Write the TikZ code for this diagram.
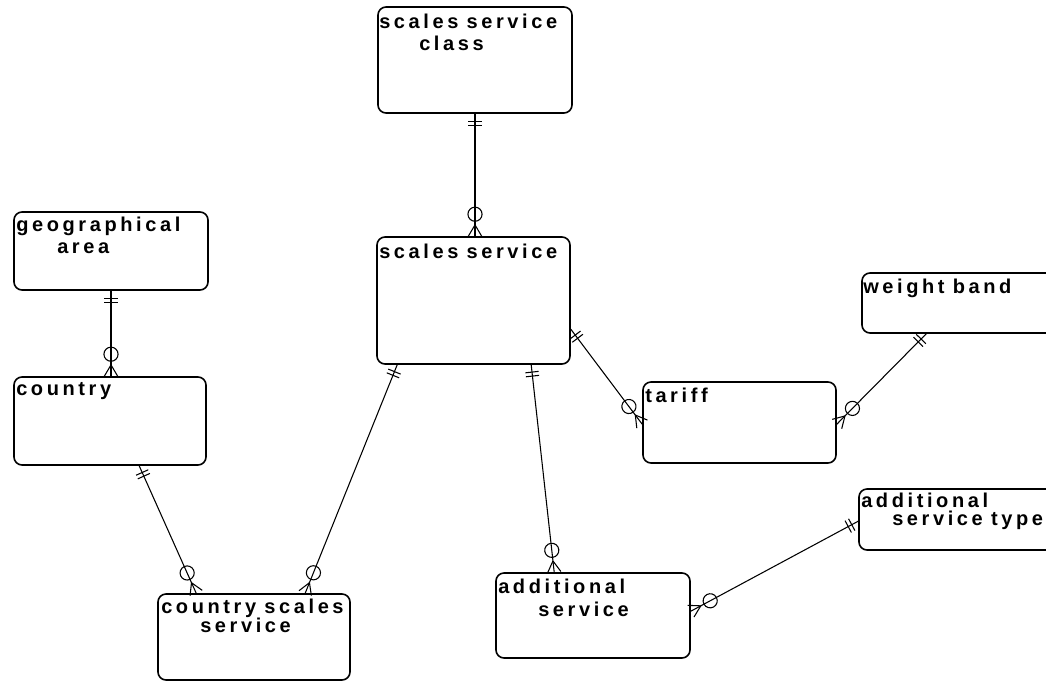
\documentclass[tikz,border=0pt]{standalone}
\usepackage{fontspec}
\setmainfont{Liberation Sans}
\newfontfamily\erfont{Liberation Sans Bold}[LetterSpace=18,WordSpace=0.9]
\usetikzlibrary{fit,calc,decorations.markings}
\begin{document}
\begin{tikzpicture}[x=0.75pt,y=-0.75pt,
  entity/.style={draw, line width=1.2pt, rounded corners=6pt, inner sep=0pt, rectangle},
  caption/.style={anchor=base west, inner sep=0pt, font=\erfont\fontsize{15}{18}\selectfont},
  % one-to-many relationship: two bars at the start, circle and crow's foot at the end
  rel/.style={draw, line width=0.8pt, postaction={decorate},
    decoration={markings,
      mark=at position 5.5pt with {\draw[line width=0.8pt] (0pt,-5pt)--(0pt,5pt);},
      mark=at position 8.5pt with {\draw[line width=0.8pt] (0pt,-5pt)--(0pt,5pt);},
      mark=at position -16.5pt with {\draw[line width=0.8pt] (0pt,0pt) circle (5.3pt);},
      mark=at position -8.5pt with {\draw[line width=0.8pt] (0pt,0pt)--(8.5pt,5pt) (0pt,0pt)--(8.5pt,-5pt);}}}
]
\path[use as bounding box] (0,0) rectangle (1046,683);

% entities
\node[entity, fit={(378,7) (572,113)}] (ssc) {};
\node[entity, fit={(14,212) (208,290)}] (ga) {};
\node[entity, fit={(14,377) (206,465)}] (country) {};
\node[entity, fit={(377,237) (570,364)}] (ss) {};
\node[entity, fit={(862,273) (1060,333)}] (wb) {};
\node[entity, fit={(643,382) (836,463)}] (tariff) {};
\node[entity, fit={(158,594) (350,680)}] (css) {};
\node[entity, fit={(496,573) (690,658)}] (as) {};
\node[entity, fit={(859,489) (1060,550)}] (ast) {};

% entity names
\node[caption] (ssc-t1) at (379,28) {scales service};
\node[caption] (ssc-t2) at (419,50) {class};
\node[caption] (ga-t1) at (16,231) {geographical};
\node[caption] (ga-t2) at (57,253) {area};
\node[caption] (country-t) at (16,395) {country};
\node[caption] (ss-t) at (379,258) {scales service};
\node[caption] (wb-t) at (863,293) {weight band};
\node[caption] (tariff-t) at (645,402) {tariff};
\node[caption] (css-t1) at (161,613) {country scales};
\node[caption] (css-t2) at (200,632) {service};
\node[caption] (as-t1) at (498,593) {additional};
\node[caption] (as-t2) at (538,616) {service};
\node[caption] (ast-t1) at (861,507) {additional};
\node[caption] (ast-t2) at (892,525) {service type};

% relationships
\draw[rel] (ssc.south) -- (ssc.south |- ss.north);
\draw[rel] (ga.south) -- (ga.south |- country.north);
\draw[rel] ($(country.south west)+(126,0)$) -- ($(css.north west)+(39,0)$);
\draw[rel] ($(ss.south west)+(21,0)$) -- ($(css.north west)+(148,0)$);
\draw[rel] ($(ss.north east)+(0,93)$) -- ($(tariff.north west)+(0,43)$);
\draw[rel] ($(wb.south west)+(65,0)$) -- ($(tariff.north east)+(0,43)$);
\draw[rel] ($(ss.south west)+(155,0)$) -- ($(as.north west)+(59,0)$);
\draw[rel] ($(ast.north west)+(0,33)$) -- ($(as.north east)+(0,39)$);
\end{tikzpicture}
\end{document}
